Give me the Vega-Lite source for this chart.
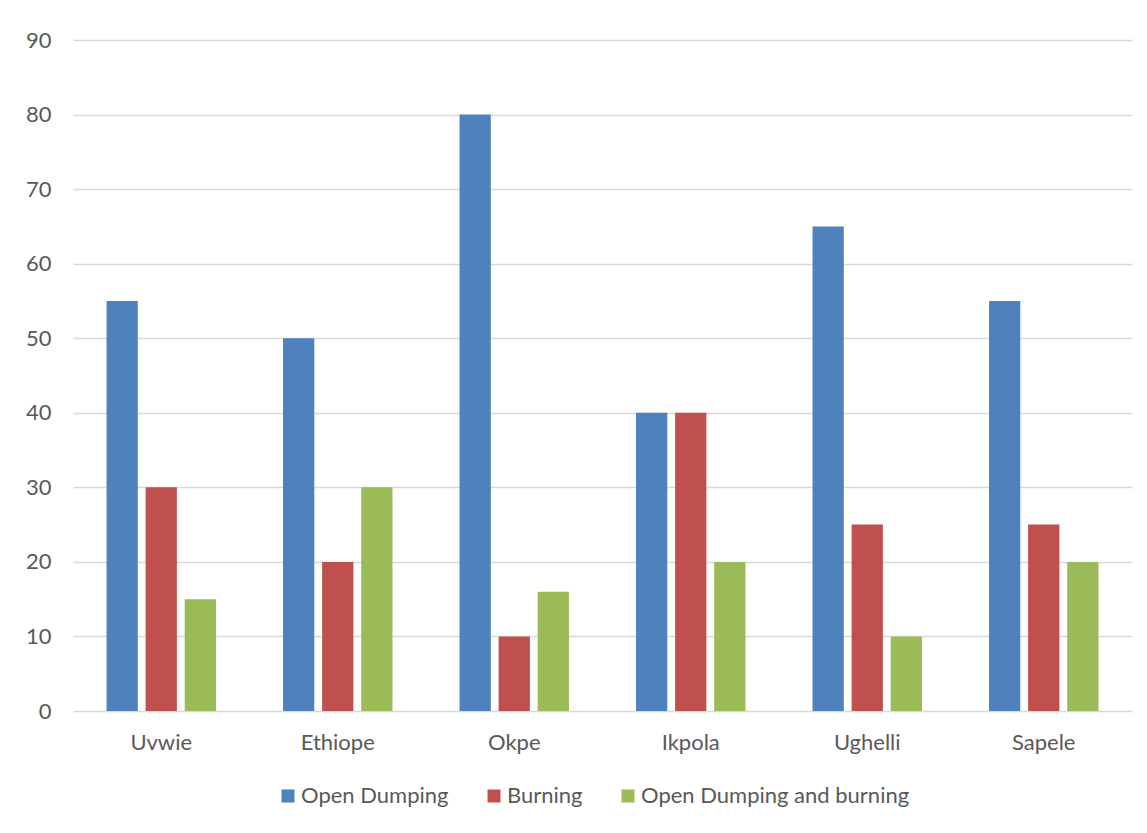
{
  "$schema": "https://vega.github.io/schema/vega-lite/v6.json",
  "autosize": {"type": "none"},
  "width": 1059,
  "height": 671,
  "padding": {"left": 73, "top": 40, "right": 15, "bottom": 122},
  "background": "white",
  "data": {"values": [
    {"site": "Uvwie", "method": "Open Dumping", "value": 55},
    {"site": "Uvwie", "method": "Burning", "value": 30},
    {"site": "Uvwie", "method": "Open Dumping and burning", "value": 15},
    {"site": "Ethiope", "method": "Open Dumping", "value": 50},
    {"site": "Ethiope", "method": "Burning", "value": 20},
    {"site": "Ethiope", "method": "Open Dumping and burning", "value": 30},
    {"site": "Okpe", "method": "Open Dumping", "value": 80},
    {"site": "Okpe", "method": "Burning", "value": 10},
    {"site": "Okpe", "method": "Open Dumping and burning", "value": 16},
    {"site": "Ikpola", "method": "Open Dumping", "value": 40},
    {"site": "Ikpola", "method": "Burning", "value": 40},
    {"site": "Ikpola", "method": "Open Dumping and burning", "value": 20},
    {"site": "Ughelli", "method": "Open Dumping", "value": 65},
    {"site": "Ughelli", "method": "Burning", "value": 25},
    {"site": "Ughelli", "method": "Open Dumping and burning", "value": 10},
    {"site": "Sapele", "method": "Open Dumping", "value": 55},
    {"site": "Sapele", "method": "Burning", "value": 25},
    {"site": "Sapele", "method": "Open Dumping and burning", "value": 20}
  ]},
  "mark": {"type": "bar"},
  "encoding": {
    "x": {
      "field": "site", "type": "nominal", "sort": null,
      "scale": {"paddingInner": 0.38, "paddingOuter": 0.19},
      "axis": {"title": null, "labelAngle": 0, "domain": false, "ticks": false, "labelPadding": 21, "labelFontSize": 22, "labelColor": "#595959", "labelFont": "Lato"}
    },
    "xOffset": {
      "field": "method", "type": "nominal",
      "sort": ["Open Dumping", "Burning", "Open Dumping and burning"],
      "scale": {"paddingInner": 0.2, "paddingOuter": 0}
    },
    "y": {
      "field": "value", "type": "quantitative",
      "scale": {"domain": [0, 90], "nice": false},
      "axis": {"title": null, "values": [0,10,20,30,40,50,60,70,80,90], "domain": false, "ticks": false, "labelPadding": 22, "labelFontSize": 22, "labelColor": "#595959", "labelFont": "Lato", "gridColor": "#d9d9d9", "gridWidth": 1.5}
    },
    "color": {
      "field": "method", "type": "nominal",
      "scale": {"domain": ["Open Dumping", "Burning", "Open Dumping and burning"], "range": ["#4f81bd", "#c0504d", "#9bbb59"]},
      "legend": {
        "title": null, "orient": "none", "direction": "horizontal",
        "legendX": 204, "legendY": 745,
        "symbolType": "square", "symbolSize": 169, "symbolStrokeWidth": 0, "symbolOpacity": 1,
        "labelFontSize": 22, "labelColor": "#595959", "labelFont": "Lato", "labelLimit": 500,
        "labelOffset": 2, "columnPadding": 34
      }
    }
  },
  "config": {"view": {"stroke": null}}
}
